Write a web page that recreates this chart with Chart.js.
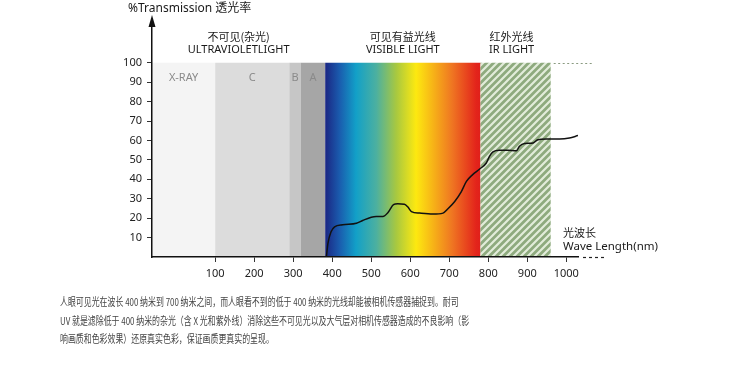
<!DOCTYPE html>
<html>
<head>
<meta charset="utf-8">
<script src="https://cdn.jsdelivr.net/npm/chart.js@4"></script>
<style>
  html, body { margin: 0; padding: 0; background: #fff; }
  #wrap { position: relative; width: 750px; height: 368px; }
  #note {
    position: absolute; left: 60px; top: 292px;
    font: 11px "Noto Sans CJK SC", "Noto Sans", sans-serif;
    line-height: 18.5px; color: #444; white-space: nowrap;
    transform: scaleX(0.72); transform-origin: 0 0;
  }
</style>
</head>
<body>
<div id="wrap">
  <canvas id="chart" width="750" height="368"></canvas>
  <div id="note">
    人眼可见光在波长 400 纳米到 700 纳米之间，而人眼看不到的低于 400 纳米的光线却能被相机传感器捕捉到。耐司<br>
    UV 就是滤除低于 400 纳米的杂光（含 X 光和紫外线）消除这些不可见光以及大气层对相机传感器造成的不良影响（影<br>
    响画质和色彩效果）还原真实色彩，保证画质更真实的呈现。
  </div>
</div>
<script>
// transmission curve (nm, %)
const wavelength = [385, 389, 397, 406, 427, 462, 478, 500, 513, 530, 543, 557, 568, 585, 594, 603, 624, 658, 684, 696, 714, 731, 744, 760, 778, 795, 803, 812, 829, 850, 872, 880, 893, 915, 927, 949, 983, 1008, 1030];
const transmission = [0, 7, 13, 15.5, 16.6, 17.4, 18.8, 20.5, 20.9, 20.9, 22.9, 26.9, 27.4, 27.2, 25.7, 23.4, 22.6, 22.1, 22.6, 24.7, 28.6, 33.7, 38.9, 42.4, 45.3, 48.4, 51.8, 54.1, 54.9, 54.9, 54.7, 57, 58.4, 58.7, 60.4, 60.8, 60.8, 61.3, 62.5];

const xTicks = [100, 200, 300, 400, 500, 600, 700, 800, 900, 1000];
const yTicks = [10, 20, 30, 40, 50, 60, 70, 80, 90, 100];

// bands: X-RAY, C, B, A, visible, IR (edges in nm)
const bandEdges = [-62, 100, 290, 319, 382, 780, 960];
const bandNames = ['X-RAY', 'C', 'B', 'A', '', ''];
const bandTop = 100;

// spectrum gradient stops (nm)
const spectrumNm = [382, 419, 461, 513, 564, 615, 657, 708, 769, 780];

const xMin = -62, xMax = 1030, yMax = 122;

const greys = ['#f4f4f4', '#dcdcdc', '#c6c6c6', '#a6a6a6'];
const spectrumColors = ['#1b2683', '#1a5cae', '#12a0c8', '#4cb0a0', '#a8c840', '#fde910', '#f7b517', '#ef7522', '#e3241b', '#e0201a'];

const latin = '"Noto Sans", "Noto Sans CJK SC", sans-serif';
const cjk = '"Noto Sans CJK SC", sans-serif';

function hatchPattern(ctx) {
  const s = 7;
  const c = document.createElement('canvas');
  c.width = s; c.height = s;
  const g = c.getContext('2d');
  g.fillStyle = '#8eaa7e';
  g.fillRect(0, 0, s, s);
  g.strokeStyle = '#e2ecda';
  g.lineWidth = 2.2;
  g.beginPath();
  g.moveTo(-1, s + 1); g.lineTo(s + 1, -1);
  g.moveTo(-s / 2 - 1, s / 2 + 1); g.lineTo(s / 2 + 1, -s / 2 - 1);
  g.moveTo(s / 2 - 1, s * 1.5 + 1); g.lineTo(s * 1.5 + 1, s / 2 - 1);
  g.stroke();
  return ctx.createPattern(c, 'repeat');
}

const bandsPlugin = {
  id: 'bands',
  beforeDraw(chart) {
    const { ctx, scales: { x, y } } = chart;
    const top = y.getPixelForValue(bandTop), bot = y.getPixelForValue(0);
    ctx.save();
    for (let i = 0; i < bandEdges.length - 1; i++) {
      const x0 = x.getPixelForValue(bandEdges[i]);
      const x1 = x.getPixelForValue(bandEdges[i + 1]);
      if (i < 4) {
        ctx.fillStyle = greys[i];
      } else if (i === 4) {
        const gr = ctx.createLinearGradient(x0, 0, x1, 0);
        spectrumNm.forEach((nm, k) => {
          gr.addColorStop((x.getPixelForValue(nm) - x0) / (x1 - x0), spectrumColors[k]);
        });
        ctx.fillStyle = gr;
      } else {
        ctx.fillStyle = hatchPattern(ctx);
      }
      ctx.fillRect(x0, top, x1 - x0, bot - top);
    }
    ctx.restore();
  },
  afterDraw(chart) {
    const { ctx, chartArea, scales: { x, y } } = chart;
    const px = v => x.getPixelForValue(v);
    const left = chartArea.left, bottom = chartArea.bottom;
    ctx.save();

    // y axis arrow
    ctx.fillStyle = '#111';
    ctx.beginPath();
    ctx.moveTo(left, 15);
    ctx.lineTo(left - 3.5, 27);
    ctx.lineTo(left + 3.5, 27);
    ctx.closePath();
    ctx.fill();

    // x axis continuation dashes
    ctx.strokeStyle = '#222';
    ctx.lineWidth = 1.2;
    ctx.setLineDash([3, 3]);
    ctx.beginPath();
    ctx.moveTo(chartArea.right + 5, bottom + 0.5);
    ctx.lineTo(chartArea.right + 26, bottom + 0.5);
    ctx.stroke();

    // dotted 100% continuation
    ctx.strokeStyle = '#8a9a80';
    ctx.lineWidth = 1.2;
    ctx.setLineDash([2, 2.5]);
    ctx.beginPath();
    const t = Math.round(y.getPixelForValue(bandTop)) + 0.5;
    ctx.moveTo(px(bandEdges[6]) + 3, t);
    ctx.lineTo(px(1068), t);
    ctx.stroke();
    ctx.setLineDash([]);

    // title
    ctx.fillStyle = '#1a1a1a';
    ctx.textBaseline = 'middle';
    ctx.textAlign = 'left';
    ctx.font = '12px ' + latin;
    ctx.fillText('%Transmission 透光率', 128, 9);

    // band letters
    ctx.fillStyle = '#8a8a8a';
    ctx.textAlign = 'center';
    ctx.font = '11px ' + latin;
    bandNames.forEach((n, i) => {
      if (!n) return;
      ctx.fillText(n, (px(bandEdges[i]) + px(bandEdges[i + 1])) / 2, 78);
    });

    // group labels
    ctx.fillStyle = '#1a1a1a';
    const groups = [
      [bandEdges[0], bandEdges[4], '不可见(杂光)', 'ULTRAVIOLETLIGHT'],
      [bandEdges[4], bandEdges[5], '可见有益光线', 'VISIBLE LIGHT'],
      [bandEdges[5], bandEdges[6], '红外光线', 'IR LIGHT']
    ];
    groups.forEach(([a, b, zh, en], i) => {
      let cx = (px(a) + px(b)) / 2;
      if (i === 2) cx -= 4;
      ctx.font = '11px ' + cjk;
      ctx.fillText(zh, cx, 37);
      ctx.font = '11px ' + latin;
      ctx.fillText(en, cx, 50);
    });

    // x axis title
    ctx.textAlign = 'left';
    ctx.font = '11px ' + cjk;
    ctx.fillText('光波长', 563, 233);
    ctx.font = '11.5px ' + latin;
    ctx.fillText('Wave Length(nm)', 563, 247);

    ctx.restore();
  }
};

new Chart(document.getElementById('chart'), {
  type: 'line',
  data: {
    datasets: [{
      data: wavelength.map((w, i) => ({ x: w, y: transmission[i] })),
      borderColor: '#111',
      borderWidth: 1.5,
      pointRadius: 0,
      cubicInterpolationMode: 'monotone',
      fill: false
    }]
  },
  options: {
    responsive: false,
    animation: false,
    layout: { padding: { left: 120, top: 20, right: 172, bottom: 86 } },
    plugins: {
      legend: { display: false },
      tooltip: { enabled: false }
    },
    scales: {
      x: {
        type: 'linear',
        min: xMin,
        max: xMax,
        afterBuildTicks: axis => { axis.ticks = xTicks.map(v => ({ value: v })); },
        afterFit: s => { s.height = 25; },
        grid: { drawOnChartArea: false, drawTicks: true, tickLength: 5, color: '#333' },
        border: { display: true, color: '#111', width: 1.5 },
        ticks: { autoSkip: false, maxRotation: 0, padding: 5, color: '#222', font: { size: 11, family: latin }, callback: v => String(v) }
      },
      y: {
        min: 0,
        max: yMax,
        afterBuildTicks: axis => { axis.ticks = yTicks.map(v => ({ value: v })); },
        afterFit: s => { s.width = 32; },
        grid: { drawOnChartArea: false, drawTicks: true, tickLength: 5, color: '#333' },
        border: { display: true, color: '#111', width: 1.5 },
        ticks: { padding: 5, color: '#222', font: { size: 11, family: latin }, callback: v => String(v) }
      }
    }
  },
  plugins: [bandsPlugin]
});
</script>
</body>
</html>
